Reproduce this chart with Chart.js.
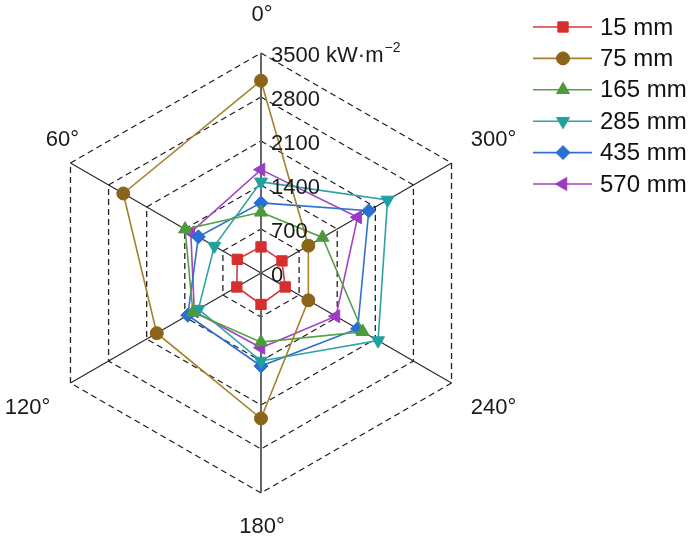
<!DOCTYPE html>
<html><head><meta charset="utf-8">
<script src="https://cdn.jsdelivr.net/npm/chart.js@4/dist/chart.umd.min.js"></script>
<style>html,body{margin:0;padding:0;background:#fff;overflow:hidden}</style>
</head><body>
<canvas id="c" width="700" height="547"></canvas>
<script>
// Axis categories (clockwise from top, as Chart.js draws them)
const categories = ['0°', '300°', '240°', '180°', '120°', '60°'];
const seriesNames = ['15 mm', '75 mm', '165 mm', '285 mm', '435 mm', '570 mm'];
const s15  = [415, 385, 445, 500, 445, 435];
const s75  = [3060, 870, 870, 2315, 1915, 2530];
const s165 = [965, 1130, 1870, 1100, 1250, 1395];
const s285 = [1450, 2325, 2150, 1400, 1150, 857];
const s435 = [1115, 1980, 1775, 1480, 1345, 1150];
const s570 = [1645, 1775, 1377, 1190, 1225, 1290];
const tickValues = [0, 700, 1400, 2100, 2800, 3500];
const tickLabels = ['0', '700', '1400', '2100', '2800', '3500'];
const unitLabel = ' kW·m';
const unitSup = '−2';

const FONT = "'Liberation Sans', Arial, Helvetica, sans-serif";
const seriesValues = [s15, s75, s165, s285, s435, s570];
const lineColors  = ['#d6393a', '#a3822c', '#58a048', '#2fa3a3', '#3070cc', '#a345c4'];
const pointColors = ['#d62f2f', '#8a6418', '#4c9a3c', '#22a0a0', '#2a6fd6', '#9b3cc6'];
const pStyles = ['rect', 'circle', 'triangle', 'triangle', 'rectRot', 'triangle'];
const pRot = [0, 0, 0, 180, 0, -90];
const pRad = [7.3, 6.5, 7.5, 7.5, 7, 7.5];

const datasets = seriesNames.map((n, i) => ({
  label: n,
  data: seriesValues[i],
  borderColor: lineColors[i],
  backgroundColor: pointColors[i],
  pointBackgroundColor: pointColors[i],
  pointBorderColor: pointColors[i],
  borderWidth: 1.6,
  pointStyle: pStyles[i],
  rotation: pRot[i],
  pointRadius: pRad[i],
  pointHoverRadius: pRad[i],
  pointBorderWidth: 1,
  fill: false,
  tension: 0
}));

const labelOffsets = [[1, -38], [42, -23], [42, 25], [1, 34], [-43, 25], [-8, -23]];

const overlay = {
  id: 'overlay',
  afterDatasetsDraw(chart) {
    const ctx = chart.ctx;
    const sc = chart.scales.r;
    ctx.save();
    // point labels
    ctx.fillStyle = '#1a1a1a';
    ctx.font = '22px ' + FONT;
    ctx.textAlign = 'center';
    ctx.textBaseline = 'middle';
    categories.forEach((c, i) => {
      const p = sc.getPointPosition(i, sc.drawingArea);
      ctx.fillText(c, p.x + labelOffsets[i][0], p.y + labelOffsets[i][1]);
    });
    // tick labels
    ctx.textAlign = 'left';
    tickValues.forEach((v, i) => {
      const d = sc.getDistanceFromCenterForValue(v);
      const x = sc.xCenter + 10, y = sc.yCenter - d + 3;
      ctx.font = '22px ' + FONT;
      let t = tickLabels[i];
      if (i === tickValues.length - 1) {
        ctx.fillText(t + unitLabel, x, y);
        const w = ctx.measureText(t + unitLabel).width;
        ctx.font = '14px ' + FONT;
        ctx.fillText(unitSup, x + w + 1, y - 8);
      } else {
        ctx.fillText(t, x, y);
      }
    });
    // legend
    const helpers = Chart.helpers || {};
    seriesNames.forEach((n, i) => {
      const y = 27 + i * 31.4;
      ctx.strokeStyle = lineColors[i];
      ctx.lineWidth = 1.6;
      ctx.beginPath();
      ctx.moveTo(533, y);
      ctx.lineTo(592, y);
      ctx.stroke();
      ctx.fillStyle = pointColors[i];
      ctx.strokeStyle = pointColors[i];
      ctx.lineWidth = 1;
      if (helpers.drawPoint) {
        helpers.drawPoint(ctx, {pointStyle: pStyles[i], rotation: pRot[i], radius: pRad[i], borderWidth: 1}, 563, y);
      } else {
        ctx.beginPath(); ctx.arc(563, y, pRad[i], 0, Math.PI * 2); ctx.fill();
      }
      ctx.fillStyle = '#111';
      ctx.font = '24px ' + FONT;
      ctx.textAlign = 'left';
      ctx.textBaseline = 'middle';
      ctx.fillText(n, 600, y + 1);
    });
    ctx.restore();
  }
};

new Chart(document.getElementById('c'), {
  type: 'radar',
  data: { labels: categories, datasets },
  options: {
    responsive: false,
    devicePixelRatio: 1,
    animation: false,
    layout: { padding: { left: 41, top: 53, right: 219, bottom: 53 } },
    plugins: { legend: { display: false }, tooltip: { enabled: false } },
    scales: {
      r: {
        min: 0, max: 3500,
        ticks: { display: false, stepSize: 700 },
        pointLabels: { display: false },
        grid: { color: '#222', lineWidth: 1.3, circular: false },
        border: { dash: [6, 4] },
        angleLines: {
          color: (ctx) => (ctx.index === 0 || ctx.index === 3) ? '#666' : '#2a2a2a',
          lineWidth: (ctx) => (ctx.index === 0 || ctx.index === 3) ? 2 : 1.2
        }
      }
    }
  },
  plugins: [overlay]
});
</script>
</body></html>
